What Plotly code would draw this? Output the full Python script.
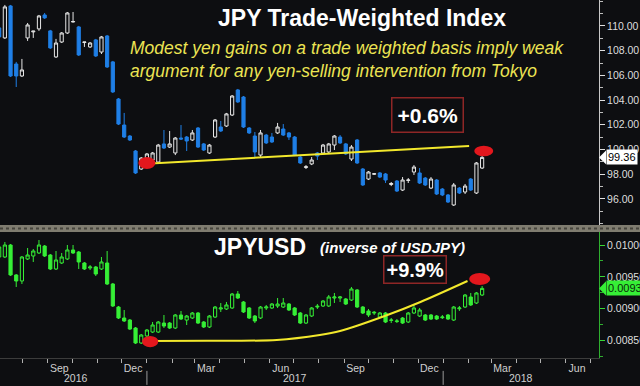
import pandas as pd
import plotly.graph_objects as go

# ---------------- data (weekly candles) ----------------
weeks = pd.date_range("2016-07-03", periods=86, freq="7D")

twi_open = [109.84, 109.03, 111.62, 106.92, 105.95, 109.03, 109.52, 109.76, 110.89, 109.60,
            107.49, 108.70, 109.43, 110.32, 109.92, 108.66, 108.30, 108.87, 107.89, 109.19,
            107.09, 104.09, 101.98, 101.09, 99.88, 98.42, 99.15, 99.15, 98.99, 100.45,
            100.20, 99.72, 100.93, 101.01, 100.77, 101.74, 100.45, 99.72, 101.01, 101.82,
            101.90, 102.79, 104.82, 104.25, 101.74, 101.09, 99.55, 101.17, 101.01, 101.34,
            101.66, 101.34, 101.01, 99.39, 98.55, 98.83, 99.72, 99.72, 99.80, 100.36,
            101.01, 100.45, 99.23, 100.77, 98.42, 97.61, 98.00, 98.10, 98.02, 97.17,
            97.45, 96.72, 97.50, 98.18, 98.10, 97.69, 96.88, 97.53, 96.80, 96.32,
            95.51, 96.88, 96.56, 97.61, 96.48, 98.50]
twi_high = [110.00, 111.70, 111.70, 107.09, 107.33, 110.24, 109.60, 110.89, 111.05, 109.68,
            108.95, 109.51, 111.13, 111.13, 110.00, 108.70, 108.70, 108.95, 109.19, 109.27,
            107.17, 104.17, 102.96, 101.17, 99.96, 99.39, 99.72, 99.80, 100.45, 101.58,
            101.50, 101.01, 101.98, 101.09, 101.58, 101.82, 100.53, 100.45, 102.47, 102.31,
            102.96, 104.41, 104.90, 104.33, 101.82, 101.42, 101.58, 101.26, 101.34, 102.15,
            102.06, 101.42, 101.09, 99.47, 98.74, 99.39, 99.80, 100.45, 100.53, 101.17,
            101.17, 100.53, 100.36, 100.85, 98.50, 98.26, 98.10, 98.18, 98.10, 97.37,
            97.53, 97.77, 97.69, 98.74, 98.50, 97.77, 97.77, 97.61, 96.88, 96.40,
            97.29, 96.96, 97.21, 97.69, 98.99, 99.47]
twi_low = [108.95, 108.95, 105.87, 105.06, 105.87, 108.79, 109.03, 109.60, 110.57, 108.14,
           107.41, 108.62, 109.35, 110.28, 107.57, 108.30, 108.22, 107.49, 107.73, 106.60,
           104.57, 101.98, 100.93, 100.69, 98.02, 98.34, 99.07, 99.07, 98.91, 100.04,
           100.12, 99.55, 100.77, 99.88, 100.69, 100.12, 99.88, 99.64, 100.93, 101.42,
           101.82, 102.71, 103.77, 101.74, 101.26, 99.39, 99.39, 100.45, 100.53, 101.26,
           101.09, 100.77, 99.47, 98.83, 98.42, 98.74, 99.15, 99.64, 99.72, 99.96,
           100.45, 99.55, 99.07, 98.83, 97.05, 97.53, 97.94, 97.69, 97.29, 97.04,
           96.56, 96.64, 97.29, 97.94, 97.21, 97.05, 96.80, 96.32, 96.23, 95.67,
           95.43, 96.40, 96.40, 96.64, 96.40, 98.42]
twi_close = [109.11, 111.54, 105.95, 105.95, 106.44, 110.08, 109.58, 110.81, 110.65, 108.22,
             108.62, 109.43, 111.05, 110.36, 107.65, 108.70, 108.62, 107.57, 109.11, 106.68,
             104.66, 102.06, 101.01, 100.77, 98.10, 99.31, 99.64, 99.72, 100.36, 100.12,
             100.45, 100.93, 100.85, 100.69, 101.34, 100.20, 99.96, 100.36, 102.39, 101.50,
             102.88, 104.33, 103.85, 101.82, 101.34, 99.80, 101.34, 100.53, 100.61, 101.82,
             101.17, 101.01, 99.55, 98.91, 98.60, 99.15, 99.47, 100.36, 100.45, 101.09,
             100.53, 99.64, 100.20, 98.91, 97.13, 98.18, 98.04, 97.77, 97.53, 97.25,
             96.64, 97.53, 97.53, 98.58, 97.29, 97.13, 97.61, 96.40, 96.32, 95.75,
             97.13, 96.48, 97.04, 96.72, 98.91, 99.36]

jpy_open = [0.009812, 0.009812, 0.010000, 0.009530, 0.009436, 0.009781, 0.009828, 0.009875, 0.009984, 0.009843,
            0.009624, 0.009718, 0.009781, 0.009922, 0.009890, 0.009718, 0.009640, 0.009655, 0.009624, 0.009718,
            0.009389, 0.009028, 0.008856, 0.008824, 0.008699, 0.008464, 0.008574, 0.008636, 0.008636, 0.008777,
            0.008777, 0.008699, 0.008903, 0.008824, 0.008856, 0.008934, 0.008793, 0.008715, 0.008871, 0.008997,
            0.008997, 0.009013, 0.009232, 0.009107, 0.009013, 0.008887, 0.008856, 0.009013, 0.009013, 0.009044,
            0.009028, 0.009075, 0.009013, 0.008934, 0.008777, 0.008887, 0.009028, 0.009044, 0.009044, 0.009169,
            0.009169, 0.009154, 0.009138, 0.009295, 0.009028, 0.008966, 0.008934, 0.008871, 0.008934, 0.008818,
            0.008800, 0.008856, 0.008793, 0.008934, 0.008887, 0.008903, 0.008903, 0.008887, 0.008860, 0.008903,
            0.008824, 0.009000, 0.009028, 0.009185, 0.009091, 0.009216]
jpy_high = [0.009984, 0.010047, 0.010016, 0.009545, 0.009828, 0.009953, 0.009937, 0.010078, 0.010000, 0.009859,
            0.009906, 0.009875, 0.010000, 0.010000, 0.009906, 0.009734, 0.009686, 0.009671, 0.009812, 0.009906,
            0.009405, 0.009044, 0.008981, 0.008840, 0.008715, 0.008605, 0.008683, 0.008793, 0.008809, 0.008903,
            0.008793, 0.008918, 0.008966, 0.008903, 0.008950, 0.008950, 0.008809, 0.008903, 0.009044, 0.009091,
            0.009107, 0.009248, 0.009279, 0.009122, 0.009028, 0.008903, 0.009044, 0.009060, 0.009091, 0.009169,
            0.009169, 0.009091, 0.009028, 0.008950, 0.008918, 0.009028, 0.009075, 0.009138, 0.009216, 0.009248,
            0.009201, 0.009169, 0.009342, 0.009310, 0.009044, 0.008997, 0.008966, 0.008950, 0.008950, 0.008856,
            0.008840, 0.008871, 0.008950, 0.009060, 0.009013, 0.008918, 0.008918, 0.008903, 0.008903, 0.008918,
            0.009044, 0.009044, 0.009232, 0.009248, 0.009263, 0.009357]
jpy_low = [0.009796, 0.009796, 0.009514, 0.009342, 0.009389, 0.009765, 0.009734, 0.009859, 0.009812, 0.009608,
           0.009608, 0.009702, 0.009765, 0.009859, 0.009624, 0.009608, 0.009608, 0.009514, 0.009608, 0.009373,
           0.009028, 0.008840, 0.008793, 0.008668, 0.008448, 0.008448, 0.008558, 0.008621, 0.008621, 0.008699,
           0.008683, 0.008683, 0.008824, 0.008746, 0.008840, 0.008762, 0.008699, 0.008699, 0.008856, 0.008950,
           0.008981, 0.008997, 0.009154, 0.008934, 0.008840, 0.008777, 0.008840, 0.008981, 0.008997, 0.009013,
           0.009013, 0.008966, 0.008887, 0.008762, 0.008762, 0.008871, 0.008997, 0.009028, 0.009028, 0.009091,
           0.009107, 0.009060, 0.009122, 0.009013, 0.008918, 0.008871, 0.008903, 0.008856, 0.008777, 0.008777,
           0.008777, 0.008762, 0.008777, 0.008918, 0.008871, 0.008809, 0.008824, 0.008824, 0.008840, 0.008824,
           0.008809, 0.008966, 0.009013, 0.009044, 0.009075, 0.009201]
jpy_close = [0.009969, 0.010000, 0.009530, 0.009436, 0.009812, 0.009843, 0.009906, 0.010000, 0.009828, 0.009624,
             0.009765, 0.009812, 0.009922, 0.009875, 0.009734, 0.009624, 0.009655, 0.009545, 0.009734, 0.009389,
             0.009044, 0.008856, 0.008809, 0.008683, 0.008464, 0.008589, 0.008668, 0.008746, 0.008793, 0.008730,
             0.008699, 0.008903, 0.008840, 0.008887, 0.008934, 0.008777, 0.008715, 0.008887, 0.009028, 0.009013,
             0.009060, 0.009232, 0.009169, 0.008950, 0.008856, 0.008809, 0.009028, 0.009028, 0.009075, 0.009075,
             0.009091, 0.008981, 0.008903, 0.008777, 0.008903, 0.009013, 0.009040, 0.009122, 0.009185, 0.009185,
             0.009185, 0.009075, 0.009310, 0.009028, 0.008934, 0.008903, 0.008945, 0.008934, 0.008793, 0.008824,
             0.008809, 0.008777, 0.008934, 0.009013, 0.008981, 0.008824, 0.008840, 0.008840, 0.008871, 0.008840,
             0.009028, 0.009013, 0.009216, 0.009060, 0.009248, 0.009320]

# annotation lines drawn by the author
twi_trend_dates = ["2016-12-31", "2018-02-02"]
twi_trend_vals = [98.85, 100.28]
jpy_curve_dates = ["2017-01-05", "2017-03-16", "2017-06-10", "2017-08-02", "2017-08-27",
                   "2017-10-21", "2017-12-04", "2018-01-31"]
jpy_curve_vals = [0.008495, 0.008498, 0.008511, 0.008589, 0.008652, 0.008887, 0.009107, 0.009436]

top_ticks = [96, 98, 100, 102, 104, 106, 108, 110]
bot_ticks = [0.0085, 0.0090, 0.0095, 0.0100]
month_ticks = ["2016-09-15", "2016-12-15", "2017-03-15", "2017-06-15", "2017-09-15",
               "2017-12-15", "2018-03-15", "2018-06-15"]
month_labels = ["Sep", "Dec", "Mar", "Jun", "Sep", "Dec", "Mar", "Jun"]
year_labels = ["2016", "2017", "2018"]
year_pos = ["2016-10-06", "2017-07-02", "2018-04-07"]
year_breaks = ["2017-01-01", "2018-01-01"]

# ---------------- styling ----------------
BG = "#0d0e11"
BLUE = "#1f7fe6"
WHITE = "#e6e6e6"
GREEN = "#36ef36"
YELLOW = "#f2e82c"
RED = "#e3171d"
FONT = "Liberation Sans, Arial, sans-serif"

fig = go.Figure()
fig.add_trace(go.Candlestick(
    x=weeks, open=twi_open, high=twi_high, low=twi_low, close=twi_close,
    increasing=dict(line=dict(color=WHITE, width=1), fillcolor=BG),
    decreasing=dict(line=dict(color=BLUE, width=1), fillcolor=BLUE),
    whiskerwidth=0, xaxis="x", yaxis="y", showlegend=False, hoverinfo="skip"))
fig.add_trace(go.Candlestick(
    x=weeks, open=jpy_open, high=jpy_high, low=jpy_low, close=jpy_close,
    increasing=dict(line=dict(color=GREEN, width=1), fillcolor=BG),
    decreasing=dict(line=dict(color=GREEN, width=1), fillcolor=GREEN),
    whiskerwidth=0, xaxis="x", yaxis="y2", showlegend=False, hoverinfo="skip"))

fig.add_trace(go.Scatter(x=twi_trend_dates, y=twi_trend_vals, mode="lines",
                         line=dict(color=YELLOW, width=2), xaxis="x", yaxis="y",
                         showlegend=False, hoverinfo="skip"))
fig.add_trace(go.Scatter(x=jpy_curve_dates, y=jpy_curve_vals, mode="lines",
                         line=dict(color=YELLOW, width=2, shape="spline", smoothing=0.8),
                         xaxis="x", yaxis="y2", showlegend=False, hoverinfo="skip"))

def day(s, d):
    return (pd.Timestamp(s) + pd.Timedelta(days=d)).strftime("%Y-%m-%d %H:%M")

shapes = [
    # red ellipses
    dict(type="circle", xref="x", yref="y", x0=day("2017-01-01", -10.5), x1=day("2017-01-01", 10.5),
         y0=98.91 - 0.48, y1=98.91 + 0.48, fillcolor=RED, line=dict(width=0)),
    dict(type="circle", xref="x", yref="y", x0=day("2018-02-20", -11.7), x1=day("2018-02-20", 11.7),
         y0=99.88 - 0.42, y1=99.88 + 0.42, fillcolor=RED, line=dict(width=0)),
    dict(type="circle", xref="x", yref="y2", x0=day("2017-01-05", -10), x1=day("2017-01-05", 10),
         y0=0.008487 - 0.000088, y1=0.008487 + 0.000088, fillcolor=RED, line=dict(width=0)),
    dict(type="circle", xref="x", yref="y2", x0=day("2018-02-15", -13), x1=day("2018-02-15", 13),
         y0=0.009467 - 0.000095, y1=0.009467 + 0.000095, fillcolor=RED, line=dict(width=0)),
    # separator band between panels
    dict(type="rect", xref="paper", yref="paper", x0=0, x1=1.07, y0=0.352, y1=0.3715,
         fillcolor="#7f7c70", line=dict(width=0), layer="above"),
    dict(type="line", xref="paper", yref="paper", x0=0, x1=1.07, y0=0.362, y1=0.362,
         line=dict(color="#46443c", width=2, dash="dot"), layer="above"),
]
for yb in year_breaks:
    shapes.append(dict(type="line", xref="x", yref="paper", x0=yb, x1=yb, y0=-0.036, y1=-0.075,
                       line=dict(color="#9a9a9a", width=1)))

# current price pointer labels
last_twi = twi_close[-1]
last_jpy = jpy_close[-1]
shapes.append(dict(type="path", xref="paper", yref="y",
                   path=f"M 1.0,{last_twi} L 1.0117,{last_twi + 0.55} L 1.0117,{last_twi - 0.55} Z",
                   fillcolor="#ffffff", line=dict(width=0)))
shapes.append(dict(type="path", xref="paper", yref="y2",
                   path=f"M 1.0,{last_jpy} L 1.0117,{last_jpy + 0.00011} L 1.0117,{last_jpy - 0.00011} Z",
                   fillcolor=GREEN, line=dict(width=0)))

annotations = [
    dict(text="JPY Trade-Weighted Index", x=0.604, y=0.95, xref="paper", yref="paper",
         showarrow=False, xanchor="center", yanchor="middle",
         font=dict(family=FONT, size=23, color="#ffffff", weight="bold")),
    dict(text="<i>Modest yen gains on a trade weighted basis imply weak<br>"
              "argument for any yen-selling intervention from Tokyo</i>",
         x=0.2137, y=0.835, xref="paper", yref="paper", showarrow=False, align="left",
         xanchor="left", yanchor="middle", font=dict(family=FONT, size=17.5, color="#ece453")),
    dict(text="+0.6%", x=0.7145, y=0.6774, xref="paper", yref="paper", showarrow=False,
         xanchor="center", yanchor="middle", bgcolor=BG, bordercolor="#8e2626", borderwidth=1.5,
         borderpad=5, font=dict(family=FONT, size=21, color="#ffffff", weight="bold")),
    dict(text="JPYUSD", x=0.434, y=0.310, xref="paper", yref="paper", showarrow=False,
         xanchor="center", yanchor="middle",
         font=dict(family=FONT, size=23, color="#ffffff", weight="bold")),
    dict(text="<i>(inverse of USDJPY)</i>", x=0.5309, y=0.3073, xref="paper", yref="paper",
         showarrow=False, xanchor="left", yanchor="middle",
         font=dict(family=FONT, size=15, color="#ffffff", weight="bold")),
    dict(text="+9.9%", x=0.6928, y=0.2472, xref="paper", yref="paper", showarrow=False,
         xanchor="center", yanchor="middle", bgcolor=BG, bordercolor="#8e2626", borderwidth=1.5,
         borderpad=2, font=dict(family=FONT, size=20, color="#ffffff", weight="bold")),
    dict(text=f"{last_twi:.2f}", x=1.0117, y=last_twi, xref="paper", yref="y", showarrow=False,
         xanchor="left", yanchor="middle", bgcolor="#ffffff", borderpad=1,
         font=dict(family=FONT, size=11, color="#000000")),
    dict(text=f"{last_jpy:.5f}", x=1.0117, y=last_jpy, xref="paper", yref="y2", showarrow=False,
         xanchor="left", yanchor="middle", bgcolor=GREEN, borderpad=1,
         font=dict(family=FONT, size=11, color="#0a2a0a")),
]
for lab, pos in zip(year_labels, year_pos):
    annotations.append(dict(text=lab, x=pos, y=-0.056, xref="x", yref="paper", showarrow=False,
                            xanchor="center", yanchor="middle",
                            font=dict(family=FONT, size=10.5, color="#d0d0d0")))

fig.update_layout(
    width=640, height=386,
    margin=dict(l=0, r=41, t=0, b=28),
    paper_bgcolor=BG, plot_bgcolor=BG,
    showlegend=False, boxgap=0.2,
    font=dict(family=FONT),
    xaxis=dict(type="date", range=["2016-07-04", "2018-07-12"], anchor="y2",
               showgrid=False, zeroline=False, rangeslider=dict(visible=False),
               tickmode="array", tickvals=month_ticks, ticktext=month_labels, ticks="",
               tickfont=dict(family=FONT, size=10.5, color="#d0d0d0"),
               showline=True, linecolor="#3c3c3c", linewidth=1,
               minor=dict(ticks="outside", ticklen=4, tickcolor="#b0b0b0", dtick="M1",
                          tick0="2016-07-01", showgrid=False),
               fixedrange=True),
    yaxis=dict(domain=[0.3715, 1.0], range=[93.89, 112.1], side="right", anchor="x",
               showgrid=False, zeroline=False, tickmode="array", tickvals=top_ticks,
               tickformat=".2f", ticks="outside", ticklen=5, tickcolor="#e0e0e0",
               tickfont=dict(family=FONT, size=10.5, color="#dedede"),
               showline=True, linecolor="#c8c8c8", linewidth=1,
               minor=dict(ticks="outside", ticklen=3, tickcolor="#bdbdbd", dtick=1, tick0=0,
                          showgrid=False),
               automargin=False, fixedrange=True),
    yaxis2=dict(domain=[0.0, 0.352], range=[0.008229, 0.010204], side="right", anchor="x",
                showgrid=False, zeroline=False, tickmode="array", tickvals=bot_ticks,
                tickformat=".5f", ticks="outside", ticklen=5, tickcolor="#36d636",
                tickfont=dict(family=FONT, size=10.5, color="#dedede"),
                showline=True, linecolor="#2fae2f", linewidth=1,
                minor=dict(ticks="outside", ticklen=3, tickcolor="#2fae2f", dtick=0.00025,
                           tick0=0, showgrid=False),
                automargin=False, fixedrange=True),
    shapes=shapes,
    annotations=annotations,
)

fig.write_html("out.html", config={"displayModeBar": False},
               post_script="document.body.style.margin='0';document.body.style.background='#0d0e11';")
